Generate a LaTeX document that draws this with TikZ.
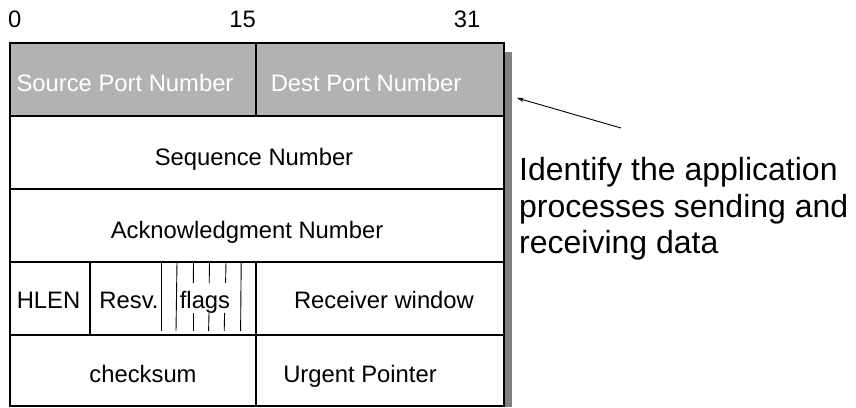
\documentclass[tikz,border=0pt]{standalone}
\usepackage{fontspec}
\setmainfont{Liberation Sans}
\usetikzlibrary{arrows.meta}
\definecolor{hdrgray}{HTML}{B2B2B2}
\definecolor{shadowgray}{HTML}{808080}
\begin{document}
\begin{tikzpicture}[x=1pt,y=-1pt,
  field/.style={font=\fontsize{23.8}{28}\selectfont, inner sep=0pt, anchor=base},
  hdrtext/.style={field, text=white},
  outer/.style={line width=2pt},
  rowline/.style={line width=1.6pt},
  divline/.style={line width=1.2pt},
  flagline/.style={line width=0.9pt},
  note/.style={font=\fontsize{32}{36.5}\selectfont, inner sep=0pt, align=left, anchor=north west}]
\useasboundingbox (0,0) rectangle (856,407);
% shadow
\fill[shadowgray] (504,52) rectangle (512,407);
% header row fill
\fill[hdrgray] (10,43) rectangle (504,116);
% bit numbers
\node[field, anchor=base west] (b0) at (8,27) {0};
\node[field, anchor=base east] (b15) at (256,27) {15};
\node[field] (b31) at (467,27) {31};
% row lines
\draw[rowline] (10,116) -- (504,116);
\draw[rowline] (10,189) -- (504,189);
\draw[rowline] (10,262) -- (504,262);
\draw[rowline] (10,335) -- (504,335);
% dividers
\draw[divline] (256,43) -- (256,116);
\draw[divline] (256,262) -- (256,406);
\draw[divline] (90,262) -- (90,334);
\draw[flagline] (161,262) -- (161,331);
\draw[flagline] (177,262) -- (176,331);
\draw[flagline] (193.5,262) -- (193.3,283);
\draw[flagline] (193,313) -- (193,331);
\draw[flagline] (209.5,262) -- (209.2,283);
\draw[flagline] (209,313) -- (208.6,331);
\draw[flagline] (226,262) -- (225.6,283);
\draw[flagline] (224.6,313) -- (224.2,331);
\draw[flagline] (241.2,262) -- (240.6,331);
% outer box
\draw[outer] (10,43) rectangle (504,406);
% texts
\node[hdrtext] (src) at (125,91) {Source Port Number};
\node[hdrtext] (dst) at (366,91) {Dest Port Number};
\node[field] (seq) at (254,165) {Sequence Number};
\node[field] (ack) at (247,238) {Acknowledgment Number};
\node[field] (hlen) at (48.5,308) {HLEN};
\node[field] (resv) at (129,308) {Resv.};
\node[field] (flags) at (205,308) {flags};
\node[field] (rwin) at (384,308) {Receiver window};
\node[field] (cks) at (143,382) {checksum};
\node[field] (urg) at (360,382) {Urgent Pointer};
% annotation
\node[note] (ann) at (519,157.5) {Identify the application\\processes sending and\\receiving data};
\coordinate (tail) at (621,128);
\coordinate (head) at (517,98);
\draw[line width=0.9pt, -{Stealth[length=7pt,width=4.5pt]}] (tail) -- (head);
\end{tikzpicture}
\end{document}
